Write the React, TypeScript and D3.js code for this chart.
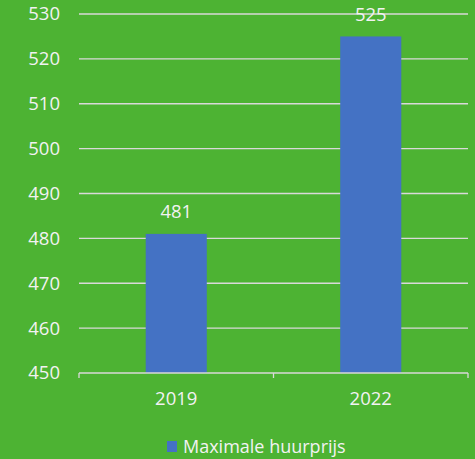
import React, { useEffect, useRef } from "react";
import * as d3 from "d3";

const categories = ["2019", "2022"];
const values = [481, 525];
const yTicks = [450, 460, 470, 480, 490, 500, 510, 520, 530];
const seriesName = "Maximale huurprijs";

const W = 475;
const H = 459;
const BG = "#4DB333";
const BAR = "#4472C4";
const TEXT = "#F2F2F2";
const GRID = "#D9D9D9";
const FONT = "'Open Sans', sans-serif";

export default function App() {
  const svgRef = useRef<SVGSVGElement>(null);

  useEffect(() => {
    const svg = d3.select(svgRef.current);
    svg.selectAll("*").remove();

    const left = 79;
    const right = 468;
    const top = 14;
    const bottom = 373;

    const x = d3.scaleBand().domain(categories).range([left, right]).padding(0);
    const y = d3.scaleLinear().domain([450, 530]).range([bottom, top]);

    svg.append("rect").attr("width", W).attr("height", H).attr("fill", BG);

    // gridlines
    svg
      .append("g")
      .selectAll("line")
      .data(yTicks.slice(1))
      .enter()
      .append("line")
      .attr("x1", left)
      .attr("x2", right)
      .attr("y1", (d) => y(d))
      .attr("y2", (d) => y(d))
      .attr("stroke", GRID)
      .attr("stroke-width", 1.3);

    // y tick labels
    svg
      .append("g")
      .selectAll("text")
      .data(yTicks)
      .enter()
      .append("text")
      .attr("x", 60)
      .attr("y", (d) => y(d))
      .attr("dy", "0.35em")
      .attr("text-anchor", "end")
      .attr("fill", TEXT)
      .style("font-family", FONT)
      .style("font-size", "18.5px")
      .text((d) => d);

    // bars
    const barW = x.bandwidth() * 0.314;
    svg
      .append("g")
      .selectAll("rect")
      .data(values)
      .enter()
      .append("rect")
      .attr("x", (d, i) => x(categories[i])! + x.bandwidth() / 2 - barW / 2)
      .attr("y", (d) => y(d))
      .attr("width", barW)
      .attr("height", (d) => bottom - y(d))
      .attr("fill", BAR);

    // value labels
    svg
      .append("g")
      .selectAll("text")
      .data(values)
      .enter()
      .append("text")
      .attr("x", (d, i) => x(categories[i])! + x.bandwidth() / 2)
      .attr("y", (d) => y(d) - 22)
      .attr("dy", "0.35em")
      .attr("text-anchor", "middle")
      .attr("fill", TEXT)
      .style("font-family", FONT)
      .style("font-size", "18.5px")
      .text((d) => d);

    // x axis
    const axis = svg.append("g");
    axis
      .append("line")
      .attr("x1", left)
      .attr("x2", right)
      .attr("y1", bottom)
      .attr("y2", bottom)
      .attr("stroke", GRID)
      .attr("stroke-width", 1.3);
    const tickX = [left, ...categories.map((c) => x(c)! + x.bandwidth())];
    axis
      .selectAll("line.tick")
      .data(tickX)
      .enter()
      .append("line")
      .attr("class", "tick")
      .attr("x1", (d) => d)
      .attr("x2", (d) => d)
      .attr("y1", bottom)
      .attr("y2", bottom + 5)
      .attr("stroke", GRID)
      .attr("stroke-width", 1.3);
    axis
      .selectAll("text")
      .data(categories)
      .enter()
      .append("text")
      .attr("x", (d) => x(d)! + x.bandwidth() / 2)
      .attr("y", 399)
      .attr("dy", "0.35em")
      .attr("text-anchor", "middle")
      .attr("fill", TEXT)
      .style("font-family", FONT)
      .style("font-size", "18.5px")
      .text((d) => d);

    // legend
    const lg = svg.append("g");
    lg.append("rect")
      .attr("x", 167)
      .attr("y", 441)
      .attr("width", 10)
      .attr("height", 11)
      .attr("fill", BAR);
    lg.append("text")
      .attr("x", 183)
      .attr("y", 447)
      .attr("dy", "0.35em")
      .attr("fill", TEXT)
      .style("font-family", FONT)
      .style("font-size", "18px")
      .text(seriesName);
  }, []);

  return (
    <svg
      ref={svgRef}
      width={W}
      height={H}
      style={{ position: "absolute", left: 0, top: 0, display: "block" }}
    />
  );
}
